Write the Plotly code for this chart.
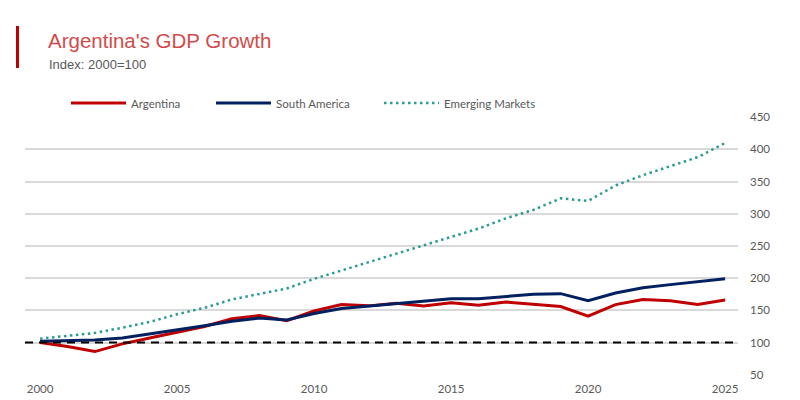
import plotly.graph_objects as go

# Chart data (index, 2000 = 100)
years = list(range(2000, 2026))
argentina = [100, 94, 86, 98, 107, 116, 125, 137, 142, 134, 149, 159, 157, 161, 157,
             162, 158, 163, 159, 156, 141, 159, 167, 165, 159, 166]
south_america = [102, 103, 104, 107, 113, 119, 126, 133, 138, 135, 145, 153, 157, 161, 164,
                 168, 168, 172, 175, 176, 165, 177, 185, 190, 194, 199]
emerging = [106, 110, 115, 123, 132, 144, 154, 167, 176, 184, 199, 212, 225, 238, 252,
            265, 277, 293, 306, 324, 320, 344, 360, 374, 388, 410]
x_ticks = [2000, 2005, 2010, 2015, 2020, 2025]
y_ticks = [50, 100, 150, 200, 250, 300, 350, 400, 450]
baseline = 100


def legend_box(x):
    # one small legend per series so each entry sits where the original has it
    return dict(orientation="h", x=x, y=1.054, xanchor="left", yanchor="middle",
                font=dict(size=11.5, color="#595959"), itemwidth=55,
                bgcolor="rgba(0,0,0,0)")


def main():
    fig = go.Figure()

    # Series lines
    fig.add_trace(go.Scatter(x=years, y=argentina, mode="lines", name="Argentina",
                             line=dict(color="#C00000", width=3), legend="legend"))
    fig.add_trace(go.Scatter(x=years, y=south_america, mode="lines", name="South America",
                             line=dict(color="#002060", width=3), legend="legend2"))
    fig.add_trace(go.Scatter(x=years, y=emerging, mode="lines", name="Emerging Markets",
                             line=dict(color="#2A9D90", width=2.5, dash="2.5px,3.5px"),
                             legend="legend3"))

    # Baseline at 100
    fig.add_shape(type="line", xref="paper", x0=0, x1=1, yref="y", y0=baseline, y1=baseline,
                  line=dict(color="black", width=2, dash="8px,6px"), layer="above")

    # Red accent bar next to the title
    fig.add_shape(type="rect", xref="paper", yref="paper", x0=-0.0126, x1=-0.0084,
                  y0=1.19, y1=1.3527, fillcolor="#C00000", line=dict(width=0))

    # Title and subtitle
    fig.add_annotation(text="Argentina's GDP Growth", xref="paper", yref="paper",
                       x=0.0295, y=1.298, xanchor="left", yanchor="middle", showarrow=False,
                       font=dict(family="Liberation Sans, Arial", size=20.5, color="#D24B4B"))
    fig.add_annotation(text="Index: 2000=100", xref="paper", yref="paper",
                       x=0.0309, y=1.2054, xanchor="left", yanchor="middle", showarrow=False,
                       font=dict(family="Liberation Sans, Arial", size=13, color="#595959"))

    # page body keeps an 8px margin, so the figure is a bit smaller than the window
    fig.update_layout(
        width=792,
        height=392,
        margin=dict(l=17, r=62, t=109, b=25, autoexpand=False),
        plot_bgcolor="white",
        paper_bgcolor="white",
        font=dict(family="Lato, Open Sans", size=11.5, color="#595959"),
        showlegend=True,
        legend=legend_box(0.0575),
        legend2=legend_box(0.2609),
        legend3=legend_box(0.4965),
        xaxis=dict(range=[1999.45, 2025.47], tickvals=x_ticks, showgrid=False,
                   zeroline=False, showline=False, ticks="", ticklabelstandoff=5),
        yaxis=dict(range=[49.6, 450.4], tickvals=y_ticks, side="right", showgrid=True,
                   gridcolor="#D9D9D9", gridwidth=1.5, zeroline=False, showline=False,
                   ticks="", ticklabelstandoff=11),
    )

    fig.write_html("out.html")


if __name__ == "__main__":
    main()
